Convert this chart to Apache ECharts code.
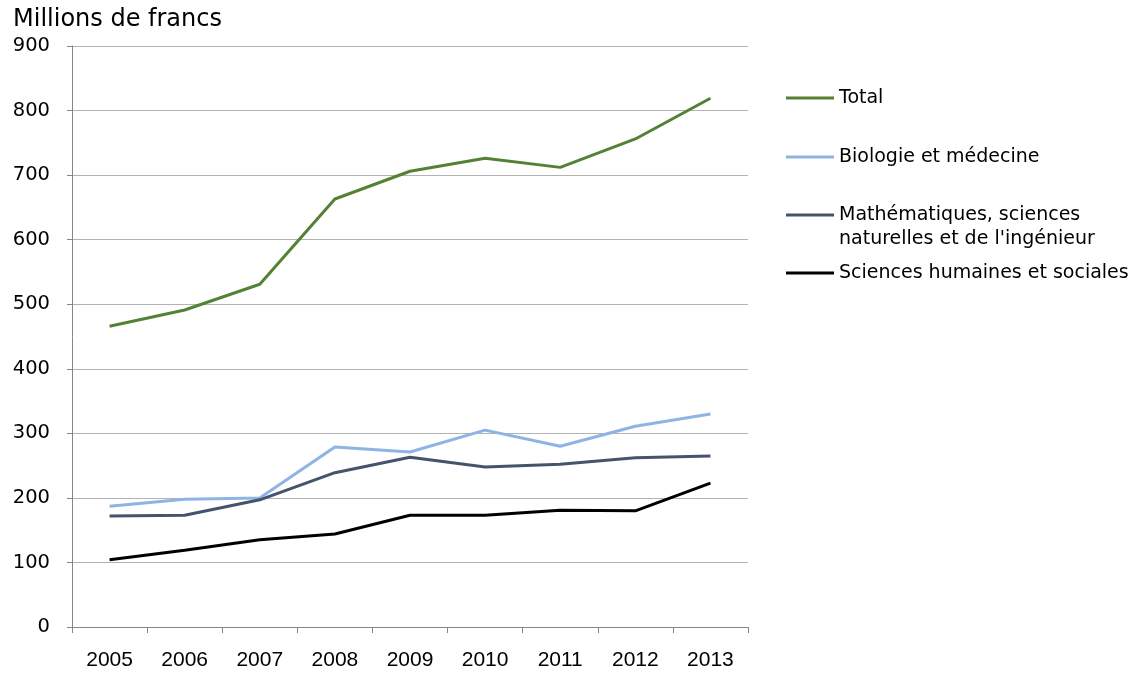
<!DOCTYPE html>
<html><head><meta charset="utf-8">
<script src="https://cdn.jsdelivr.net/npm/echarts@6/dist/echarts.min.js"></script>
<style>html,body{margin:0;padding:0;background:#fff}#c{width:1140px;height:674px}</style>
</head><body><div id="c"></div>
<script>
const years = ['2005','2006','2007','2008','2009','2010','2011','2012','2013'];
const total = [466, 491, 531, 663, 706, 726, 712, 756, 819];
const biologie = [187, 198, 200, 279, 271, 305, 280, 311, 330];
const mathematiques = [172, 173, 197, 239, 263, 248, 252, 262, 265];
const sciencesHumaines = [104, 119, 135, 144, 173, 173, 181, 180, 223];
const names = ['Total', 'Biologie et médecine', "Mathématiques, sciences naturelles et de l'ingénieur", 'Sciences humaines et sociales'];
const colors = ['#548235', '#8eb4e3', '#44546a', '#000000'];
const font = 'Verdana, "DejaVu Sans", sans-serif';
const chart = echarts.init(document.getElementById('c'));
function lg(i, top, fmt) {
  return {
    data: [names[i]], left: 786, top: top, orient: 'vertical', padding: 0,
    icon: 'rect', itemWidth: 48, itemHeight: 3, selectedMode: false,
    textStyle: { fontFamily: font, fontSize: 19, color: '#000', lineHeight: 24 },
    formatter: fmt || undefined
  };
}
chart.setOption({
  animation: false,
  title: { text: 'Millions de francs', left: 8, top: 3, textStyle: { fontFamily: font, fontSize: 24, fontWeight: 'normal', color: '#000' } },
  legend: [
    lg(0, 86),
    lg(1, 145),
    lg(2, 179, function () { return "\nMathématiques, sciences\nnaturelles et de l'ingénieur"; }),
    lg(3, 261)
  ],
  grid: { left: 72, right: 392, top: 46, bottom: 47, containLabel: false },
  xAxis: {
    type: 'category', data: years, boundaryGap: true,
    axisLine: { lineStyle: { color: '#868686', width: 1 } },
    axisTick: { show: true, length: 6, lineStyle: { color: '#868686' } },
    axisLabel: { fontFamily: '"Liberation Sans Narrow", "Arial Narrow", sans-serif', fontSize: 21, color: '#000', margin: 23 }
  },
  yAxis: {
    type: 'value', min: 0, max: 900, interval: 100,
    axisLine: { show: true, lineStyle: { color: '#868686', width: 1 } },
    axisTick: { show: true, length: 5, lineStyle: { color: '#868686' } },
    splitLine: { lineStyle: { color: '#b3b3b3', width: 1 } },
    axisLabel: { fontFamily: font, fontSize: 19.5, color: '#000', margin: 22 }
  },
  series: [total, biologie, mathematiques, sciencesHumaines].map((d, i) => ({
    name: names[i], type: 'line', data: d, symbol: 'none',
    lineStyle: { color: colors[i], width: 3 }, itemStyle: { color: colors[i] }
  }))
});
</script></body></html>
